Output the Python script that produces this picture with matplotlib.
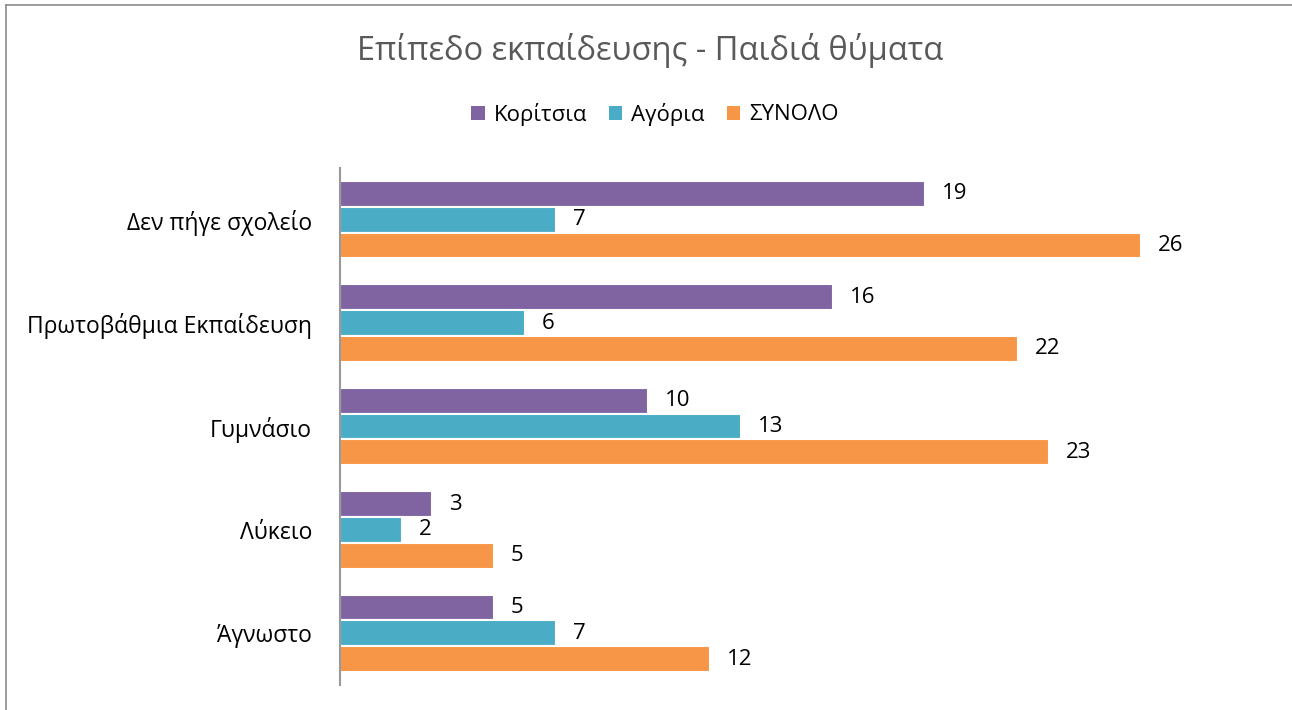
import matplotlib
matplotlib.use("Agg")
import matplotlib.pyplot as plt
from matplotlib.lines import Line2D
from matplotlib.patches import Patch
import numpy as np

plt.rcParams['font.family'] = ['Open Sans', 'DejaVu Sans']

categories = ["Δεν πήγε σχολείο", "Πρωτοβάθμια Εκπαίδευση", "Γυμνάσιο", "Λύκειο", "Άγνωστο"]
series_names = ["Κορίτσια", "Αγόρια", "ΣΥΝΟΛΟ"]
girls = [19, 16, 10, 3, 5]
boys = [7, 6, 13, 2, 7]
total = [26, 22, 23, 5, 12]
colors = ["#8064A2", "#4BACC6", "#F79646"]

W, H = 1292, 710
fig = plt.figure(figsize=(W / 100, H / 100), dpi=100)
fig.patch.set_facecolor("white")

x0, x1 = 340, 1292
y_top, y_bot = 168, 685
ax = fig.add_axes([x0 / W, 1 - y_bot / H, (x1 - x0) / W, (y_bot - y_top) / H])
px_per_unit = (1141 - 340) / 26
ax.set_xlim(0, (x1 - x0) / px_per_unit)
ax.set_ylim(len(categories) - 0.5, -0.5)

pos = np.arange(len(categories))
h = 0.25
offsets = [-h, 0, h]
for vals, off, c, name in zip([girls, boys, total], offsets, colors, series_names):
    bars = ax.barh(pos + off, vals, height=h, color=c, edgecolor="white", linewidth=1.5, label=name)
    for b, v in zip(bars, vals):
        ax.annotate(str(v), (b.get_width(), b.get_y() + b.get_height() / 2),
                    xytext=(17, 0), textcoords="offset pixels",
                    va="center", ha="left", fontsize=16, color="black")

ax.set_yticks(pos)
ax.set_yticklabels(categories, fontsize=16.5)
ax.tick_params(axis="y", length=0, pad=20)
ax.set_xticks([])
for s in ["top", "right", "bottom"]:
    ax.spines[s].set_visible(False)
ax.spines["left"].set_color("#999999")
ax.spines["left"].set_linewidth(1.5)

fig.text(650 / W, 1 - 51 / H, "Επίπεδο εκπαίδευσης - Παιδιά θύματα", ha="center", va="center",
         fontsize=23.5, color="#595959")

handles = [Patch(facecolor=c, edgecolor="none") for c in colors]
fig.legend(handles, series_names, loc="center", bbox_to_anchor=(655 / W, 1 - 114 / H),
           ncol=3, frameon=False, fontsize=16, handlelength=0.6, handleheight=0.6,
           columnspacing=1.0, handletextpad=0.4)

# outer border (partially visible)
fig.add_artist(Line2D([6 / W, 6 / W], [0, 1 - 5 / H], color="#8c8c8c", linewidth=1.2))
fig.add_artist(Line2D([6 / W, 1], [1 - 5 / H, 1 - 5 / H], color="#8c8c8c", linewidth=1.2))

fig.savefig("out.png", dpi=100, facecolor="white")
